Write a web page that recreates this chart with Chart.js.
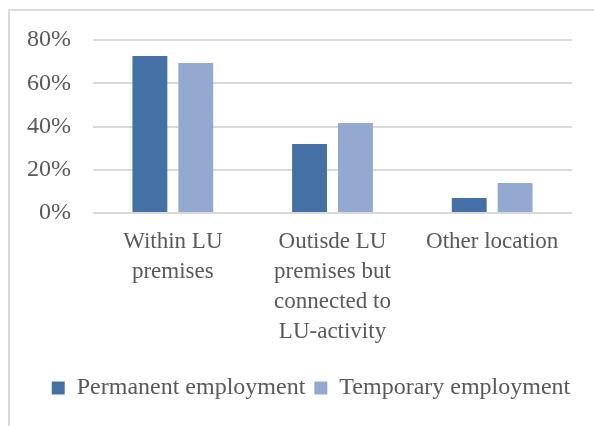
<!DOCTYPE html>
<html>
<head>
<meta charset="utf-8">
<script src="https://cdn.jsdelivr.net/npm/chart.js@4"></script>
<style>
  body { margin: 0; background: #fff; }
  .wrap { position: relative; width: 594px; height: 426px; }
  .frame {
    position: absolute; left: 8px; top: 9px; right: 0; bottom: 0;
    border-left: 2px solid #d9d9d9; border-top: 2px solid #d9d9d9;
  }
  canvas { position: absolute; left: 0; top: 0; }
</style>
</head>
<body>
<div class="wrap">
  <div class="frame"></div>
  <canvas id="chart" width="594" height="426"></canvas>
</div>
<script>
// DATA

const categories = [
  ["Within LU", "premises"],
  ["Outisde LU", "premises but", "connected to", "LU-activity"],
  ["Other location"]
];
const permanentValues = [72.6, 31.9, 6.9];
const temporaryValues = [69.4, 41.6, 13.9];
const seriesNames = ["Permanent employment", "Temporary employment"];

const FONT = "'Liberation Serif', 'DejaVu Serif', serif";
const TEXT_COLOR = "#595959";

// legend sits a bit right of centre in the original
const legendShift = {
  id: "legendShift",
  afterLayout(chart) {
    if (!chart.legend) return;
    chart.legend.left += 22;
    chart.legend.right += 22;
  }
};

const ctx = document.getElementById("chart").getContext("2d");

new Chart(ctx, {
  type: "bar",
  data: {
    labels: categories,
    datasets: [
      {
        label: seriesNames[0],
        data: permanentValues,
        backgroundColor: "#4470a6",
        barPercentage: 0.76,
        categoryPercentage: 0.575
      },
      {
        label: seriesNames[1],
        data: temporaryValues,
        backgroundColor: "#94a9d0",
        barPercentage: 0.76,
        categoryPercentage: 0.575
      }
    ]
  },
  options: {
    responsive: false,
    animation: false,
    layout: { padding: { left: 6, right: 22, top: 40, bottom: 16 } },
    plugins: {
      tooltip: { enabled: false },
      legend: {
        position: "bottom",
        labels: {
          color: TEXT_COLOR,
          font: { family: FONT, size: 24 },
          boxWidth: 13,
          boxHeight: 13,
          padding: 9
        }
      }
    },
    scales: {
      x: {
        grid: { display: false },
        border: { display: false },
        ticks: {
          color: TEXT_COLOR,
          font: { family: FONT, size: 23, lineHeight: 1.3 },
          maxRotation: 0,
          padding: 6
        },
        afterFit: scale => { scale.height = 154; }
      },
      y: {
        min: 0,
        max: 80,
        ticks: {
          stepSize: 20,
          color: TEXT_COLOR,
          font: { family: FONT, size: 24 },
          padding: 22,
          callback: v => v + "%"
        },
        grid: { color: "#d9d9d9", lineWidth: 2, drawTicks: false },
        border: { display: false },
        afterFit: scale => { scale.width = 87; }
      }
    }
  },
  plugins: [legendShift]
});
</script>
</body>
</html>
